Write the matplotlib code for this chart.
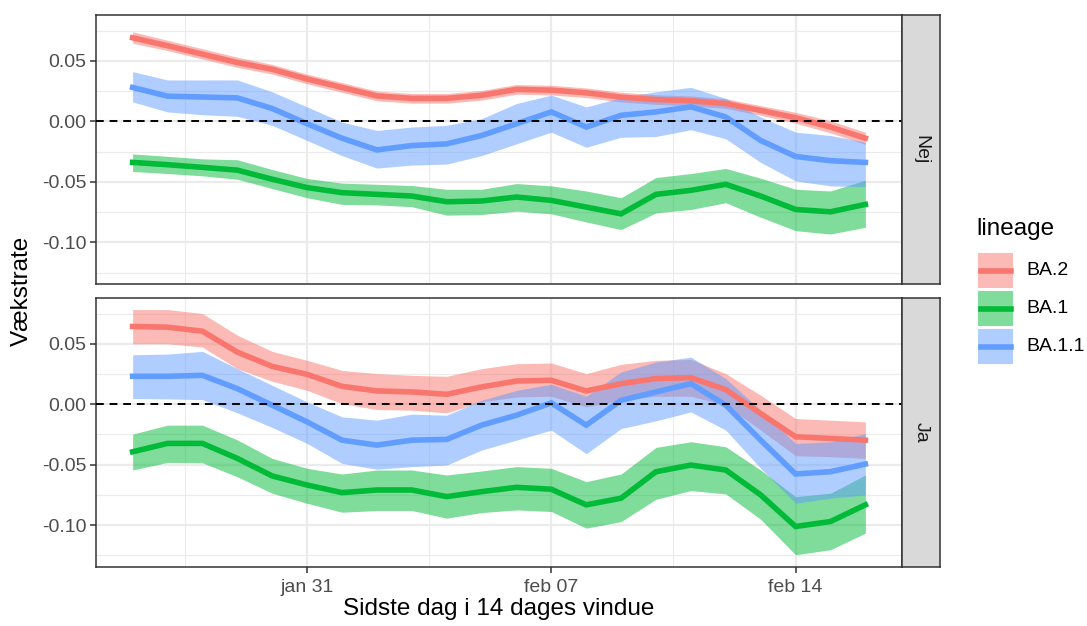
import numpy as np
import pandas as pd
import matplotlib
matplotlib.use("Agg")
import matplotlib.pyplot as plt
from matplotlib.patches import Rectangle
from matplotlib.lines import Line2D

plt.rcParams['font.family'] = ['Liberation Sans', 'DejaVu Sans']

dates = pd.date_range('2022-01-26', '2022-02-16', freq='D')
lineages = ['BA.2', 'BA.1', 'BA.1.1']
colors = {'BA.2': '#F8766D', 'BA.1': '#00BA38', 'BA.1.1': '#619CFF'}
panels = ['Nej', 'Ja']

# growth rate estimates, panel "Nej"
nej_ba2 = [0.069, 0.0625, 0.0555, 0.0486, 0.043, 0.035, 0.028, 0.021, 0.019, 0.019, 0.0215,
           0.0264, 0.0258, 0.0236, 0.020, 0.018, 0.017, 0.0147, 0.009, 0.003, -0.0047, -0.0139]
nej_ba2_lo = [0.0645, 0.0585, 0.0515, 0.0446, 0.039, 0.031, 0.024, 0.017, 0.015, 0.015, 0.0175,
              0.0224, 0.0218, 0.0196, 0.016, 0.014, 0.013, 0.0107, 0.005, -0.0015, -0.0095, -0.019]
nej_ba2_hi = [0.074, 0.067, 0.060, 0.053, 0.047, 0.039, 0.032, 0.025, 0.023, 0.023, 0.0255,
              0.0304, 0.0298, 0.0276, 0.024, 0.022, 0.021, 0.0187, 0.013, 0.0075, 0.0005, -0.009]

nej_ba1 = [-0.0339, -0.0358, -0.038, -0.0403, -0.0478, -0.0547, -0.0589, -0.0603, -0.0617, -0.0664, -0.0658,
           -0.0625, -0.0653, -0.0708, -0.0764, -0.0603, -0.057, -0.052, -0.0617, -0.0728, -0.0747, -0.0686]
nej_ba1_lo = [-0.0414, -0.0431, -0.045, -0.0478, -0.0555, -0.0631, -0.0686, -0.069, -0.0705, -0.0775, -0.077,
              -0.0742, -0.0764, -0.0831, -0.0894, -0.0756, -0.0728, -0.0672, -0.0792, -0.0903, -0.0931, -0.0875]
nej_ba1_hi = [-0.0269, -0.0289, -0.031, -0.0317, -0.0398, -0.0472, -0.051, -0.052, -0.053, -0.0561, -0.0561,
              -0.0514, -0.0533, -0.0575, -0.0631, -0.0464, -0.0431, -0.0389, -0.047, -0.0561, -0.0575, -0.0486]

nej_ba11 = [0.028, 0.0208, 0.0201, 0.0194, 0.0106, -0.002, -0.0139, -0.0236, -0.020, -0.0186, -0.0117,
            -0.002, 0.0078, -0.0047, 0.005, 0.0078, 0.012, 0.0036, -0.0158, -0.029, -0.0325, -0.0339]
nej_ba11_lo = [0.0161, 0.0078, 0.0055, 0.0042, -0.0033, -0.0158, -0.0283, -0.0386, -0.0361, -0.0353, -0.0283,
               -0.0186, -0.0089, -0.0214, -0.0131, -0.0125, -0.0069, -0.0144, -0.0339, -0.0492, -0.0533, -0.0540]
nej_ba11_hi = [0.0411, 0.0342, 0.0342, 0.0342, 0.0244, 0.0119, -0.0006, -0.0075, -0.0047, -0.0033, 0.0022,
               0.0147, 0.0217, 0.0119, 0.0197, 0.0244, 0.0281, 0.0189, 0.0036, -0.0089, -0.0117, -0.0172]

# growth rate estimates, panel "Ja"
ja_ba2 = [0.0643, 0.0637, 0.0604, 0.0431, 0.0313, 0.0247, 0.0148, 0.011, 0.0102, 0.0082, 0.0143,
          0.0192, 0.0198, 0.011, 0.017, 0.0212, 0.022, 0.0121, -0.0077, -0.0269, -0.0283, -0.0297]
ja_ba2_lo = [0.0500, 0.0500, 0.0473, 0.0294, 0.0190, 0.0115, 0.0005, -0.0044, -0.0049, -0.0071, 0.0019,
             0.0060, 0.0066, -0.0022, 0.0033, 0.0066, 0.0066, -0.0008, -0.0214, -0.0426, -0.0434, -0.0448]
ja_ba2_hi = [0.0783, 0.0783, 0.0750, 0.0571, 0.0437, 0.0363, 0.0280, 0.0253, 0.0239, 0.0231, 0.0294,
             0.0335, 0.0341, 0.0253, 0.0330, 0.0363, 0.0371, 0.0253, 0.0074, -0.0118, -0.0132, -0.0146]

ja_ba1 = [-0.0393, -0.0324, -0.0324, -0.0448, -0.0593, -0.0668, -0.0731, -0.0709, -0.0709, -0.0764, -0.0723,
          -0.0687, -0.0703, -0.0832, -0.0777, -0.0558, -0.0503, -0.0544, -0.075, -0.1011, -0.097, -0.0832]
ja_ba1_lo = [-0.0544, -0.0481, -0.0484, -0.0600, -0.0736, -0.0819, -0.0893, -0.0879, -0.0879, -0.0942, -0.0896,
             -0.0874, -0.0887, -0.1025, -0.0970, -0.0786, -0.0714, -0.0742, -0.0951, -0.1245, -0.1203, -0.1066]
ja_ba1_hi = [-0.0247, -0.0173, -0.0173, -0.0295, -0.0448, -0.0530, -0.0577, -0.0544, -0.0544, -0.0585, -0.0552,
             -0.0516, -0.0530, -0.0640, -0.0577, -0.0357, -0.0310, -0.0352, -0.0544, -0.0764, -0.0736, -0.0585]

ja_ba11 = [0.0231, 0.0231, 0.0239, 0.0129, -0.0008, -0.0146, -0.0297, -0.0338, -0.0297, -0.0291, -0.0173,
           -0.0091, 0.0011, -0.0173, 0.0033, 0.0102, 0.017, -0.0008, -0.0297, -0.0577, -0.0558, -0.0495]
ja_ba11_lo = [0.0047, 0.0044, 0.0038, -0.0071, -0.0192, -0.0324, -0.0489, -0.0538, -0.0516, -0.0503, -0.0379,
              -0.0297, -0.0214, -0.0409, -0.0201, -0.0137, -0.0063, -0.0214, -0.0530, -0.0819, -0.0777, -0.0750]
ja_ba11_hi = [0.0409, 0.0415, 0.0437, 0.0294, 0.0157, 0.0019, -0.0104, -0.0132, -0.0082, -0.0091, 0.0033,
              0.0115, 0.0165, 0.0066, 0.0267, 0.0349, 0.0390, 0.0212, -0.0049, -0.0324, -0.0310, -0.0242]

data = {
    'Nej': {'BA.2': (nej_ba2, nej_ba2_lo, nej_ba2_hi),
            'BA.1': (nej_ba1, nej_ba1_lo, nej_ba1_hi),
            'BA.1.1': (nej_ba11, nej_ba11_lo, nej_ba11_hi)},
    'Ja': {'BA.2': (ja_ba2, ja_ba2_lo, ja_ba2_hi),
           'BA.1': (ja_ba1, ja_ba1_lo, ja_ba1_hi),
           'BA.1.1': (ja_ba11, ja_ba11_lo, ja_ba11_hi)},
}

W, H = 1087, 626
fig = plt.figure(figsize=(W / 100, H / 100), dpi=100)

def fx(px):
    return px / W

def fy(py):
    return 1 - py / H

left, right, strip_r = 96, 902, 940
boxes = [(14.7, 284.3), (297.7, 567)]

xmin = dates[0] - pd.Timedelta(days=1.05)
xmax = dates[-1] + pd.Timedelta(days=1.05)
ylim = (-0.1346, 0.0881)
xticks = pd.to_datetime(['2022-01-31', '2022-02-07', '2022-02-14'])
xminor = xticks[:-1] + pd.Timedelta(hours=84)
xminor = xminor.insert(0, xticks[0] - pd.Timedelta(hours=84))

for i, panel in enumerate(panels):
    top, bot = boxes[i]
    ax = fig.add_axes([fx(left), fy(bot), fx(right - left), fy(top) - fy(bot)])
    ax.set_facecolor('white')
    for v in [-0.125, -0.075, -0.025, 0.025, 0.075]:
        ax.axhline(v, color='#EBEBEB', lw=0.8, zorder=0)
    for v in [-0.10, -0.05, 0.0, 0.05]:
        ax.axhline(v, color='#EBEBEB', lw=1.6, zorder=0)
    for d in xminor:
        ax.axvline(d, color='#EBEBEB', lw=0.8, zorder=0)
    for d in xticks:
        ax.axvline(d, color='#EBEBEB', lw=1.6, zorder=0)

    for lin in lineages:
        est, lo, hi = data[panel][lin]
        ax.fill_between(dates, lo, hi, color=colors[lin], alpha=0.5, lw=0, zorder=2)
    for lin in lineages:
        est, lo, hi = data[panel][lin]
        ax.plot(dates, est, color=colors[lin], lw=4, zorder=3, solid_joinstyle='miter')
    ax.axhline(0, color='black', lw=1.4, ls=(0, (4, 3)), zorder=4)

    ax.set_xlim(xmin, xmax)
    ax.set_ylim(*ylim)
    ax.set_yticks([-0.10, -0.05, 0.0, 0.05])
    ax.set_yticklabels(['-0.10', '-0.05', '0.00', '0.05'])
    ax.set_xticks(xticks)
    ax.tick_params(axis='both', colors='#333333', labelcolor='#4D4D4D', labelsize=14,
                   length=4, width=1.1, pad=3)
    if i == 1:
        ax.set_xticklabels(['jan 31', 'feb 07', 'feb 14'])
        ax.tick_params(axis='x', pad=5)
    else:
        ax.tick_params(axis='x', length=0, labelbottom=False)
    for s in ax.spines.values():
        s.set_color('#333333')
        s.set_linewidth(1.1)

    # facet strip
    sax = fig.add_axes([fx(right), fy(bot), fx(strip_r - right), fy(top) - fy(bot)])
    sax.set_facecolor('#D9D9D9')
    sax.set_xticks([])
    sax.set_yticks([])
    for s in sax.spines.values():
        s.set_color('#333333')
        s.set_linewidth(1.1)
    sax.text(0.5, 0.5, panel, rotation=-90, ha='center', va='center', fontsize=14,
             color='#1A1A1A', transform=sax.transAxes)

fig.text(fx(499), fy(609), 'Sidste dag i 14 dages vindue', ha='center', va='center', fontsize=17.5)
fig.text(fx(22), fy(291), 'Vækstrate', rotation=90, ha='center', va='center', fontsize=17.5)

# legend, drawn in pixel coordinates
lax = fig.add_axes([0, 0, 1, 1], zorder=5)
lax.set_xlim(0, W)
lax.set_ylim(H, 0)
lax.axis('off')
lax.patch.set_alpha(0)
lax.text(976, 229, 'lineage', ha='left', va='center', fontsize=17.5)
for k, lin in enumerate(lineages):
    y0 = 253 + k * 38
    lax.add_patch(Rectangle((978, y0), 35, 35, facecolor=colors[lin], alpha=0.5, lw=0))
    lax.add_line(Line2D([980.5, 1010.5], [y0 + 17.5, y0 + 17.5], color=colors[lin], lw=4))
    lax.text(1026, y0 + 17.5, lin, ha='left', va='center', fontsize=14)

fig.savefig('out.png', dpi=100, facecolor='white')
